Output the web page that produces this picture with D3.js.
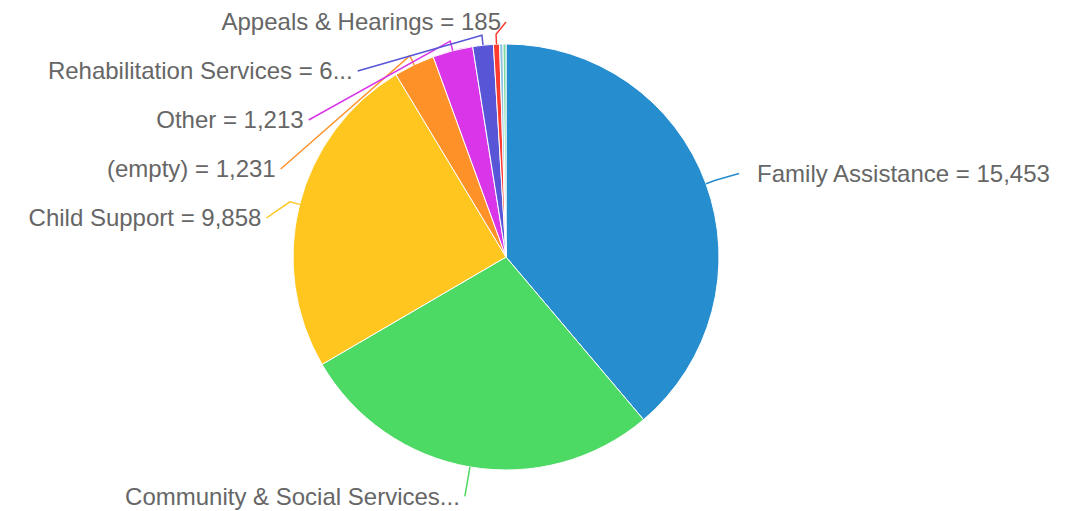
<!DOCTYPE html>
<html>
<head>
<meta charset="utf-8">
<script src="https://cdn.jsdelivr.net/npm/d3@7"></script>
<style>
  body { margin: 0; background: #fff; }
  text { font-family: "Liberation Sans", Arial, Helvetica, sans-serif; }
</style>
</head>
<body>
<div id="root"></div>
<script>
// slice data, clockwise from 12 o'clock
var categories = ["Family Assistance", "Community & Social Services", "Child Support", "(empty)", "Other",
                  "Rehabilitation Services", "Appeals & Hearings", "Misc A", "Misc B"];
var values = [15453, 11050, 9858, 1231, 1213, 620, 185, 100, 90];
// labels as shown (some are cut short in the original, two are hidden)
var labelText = ["Family Assistance = 15,453", "Community & Social Services...", "Child Support = 9,858",
                 "(empty) = 1,231", "Other = 1,213", "Rehabilitation Services = 6...", "Appeals & Hearings = 185",
                 null, null];
var colors = ["#268ecf", "#4cd964", "#fec61e", "#fe9228", "#d836e8", "#5856d6", "#ff3b30", "#8ec3e0", "#7ed9a0"];

var w = 1077, h = 511;
var cx = 506, cy = 257, r = 213;
var labelR = 243;     // radius of the label ring
var spacing = 49;     // min vertical gap between labels

var svg = d3.select("#root").append("svg").attr("width", w).attr("height", h);
svg.append("clipPath").attr("id", "clip").append("rect").attr("x", 0).attr("y", 0).attr("width", 1050).attr("height", h);

var pie = d3.pie().sort(null).value(function(d) { return d; });
var arcs = pie(values);
var arc = d3.arc().innerRadius(0).outerRadius(r);

var g = svg.append("g").attr("transform", "translate(" + cx + "," + cy + ")");
g.selectAll("path").data(arcs).enter().append("path")
  .attr("d", arc)
  .attr("fill", function(d, i) { return colors[i]; })
  .attr("stroke", "#fff").attr("stroke-width", 1);

// label layout
var labels = [];
arcs.forEach(function(a, i) {
  if (!labelText[i]) return;
  var mid = (a.startAngle + a.endAngle) / 2;
  labels.push({ i: i, mid: mid, left: mid > Math.PI, y: cy - labelR * Math.cos(mid) });
});
function spread(list) {
  list.sort(function(a, b) { return a.y - b.y; });
  var prev = -Infinity;
  list.forEach(function(l) {
    l.y = Math.max(l.y, prev + spacing, 22);
    prev = l.y;
  });
}
var leftL = labels.filter(function(l) { return l.left; });
var rightL = labels.filter(function(l) { return !l.left; });
spread(leftL); spread(rightL);

labels.forEach(function(l) {
  var dy = l.y - cy;
  if (dy < 0) dy *= 1.035; // ring is a bit squashed over the top
  var dx = Math.sqrt(Math.max(0, labelR * labelR - dy * dy));
  l.x = l.left ? cx - dx : cx + dx;
});

var lg = svg.append("g").attr("clip-path", "url(#clip)");
labels.forEach(function(l) {
  var px = cx + r * Math.sin(l.mid), py = cy - r * Math.cos(l.mid);
  var ex = cx + (r + 10) * Math.sin(l.mid), ey = cy - (r + 10) * Math.cos(l.mid);
  var sx = l.left ? l.x : l.x + 6;
  lg.append("path")
    .attr("d", "M" + sx + "," + l.y + "L" + ex + "," + ey + "L" + px + "," + py)
    .attr("fill", "none").attr("stroke", colors[l.i]).attr("stroke-width", 1.5);
  lg.append("text")
    .attr("x", l.left ? l.x - 5 : l.x + 24)
    .attr("y", l.y).attr("dy", "0.35em")
    .attr("text-anchor", l.left ? "end" : "start")
    .attr("font-size", 24).attr("fill", "#666")
    .text(labelText[l.i]);
});
</script>
</body>
</html>
